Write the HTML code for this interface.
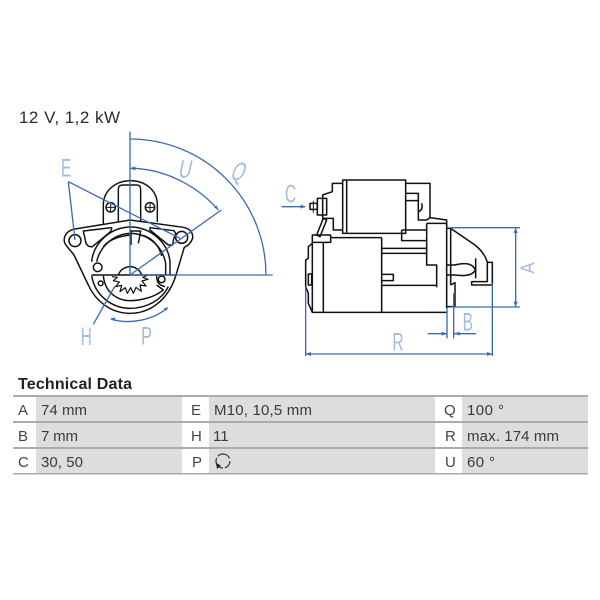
<!DOCTYPE html>
<html><head><meta charset="utf-8"><style>
html,body{margin:0;padding:0;background:#fff}
svg{display:block}
text{font-family:"Liberation Sans",sans-serif;fill:#2b2b2b}
.t{font-size:15px;fill:#3a3a3a}
.k{font-size:15px;fill:#444}
.b{fill:#a2bbde;font-size:75px}
</style></head><body>
<svg width="600" height="600" viewBox="0 0 600 600" xmlns="http://www.w3.org/2000/svg">
<text x="19" y="123" font-size="17" textLength="101" lengthAdjust="spacing">12 V, 1,2 kW</text>

<!-- front view -->
<g transform="translate(50,130) scale(.33333)">
<g fill="none" stroke="#111" stroke-width="4.4" stroke-linejoin="round">
<path d="M160,282V225C160,180 200,152 240,152C285,152 322,180 322,225V276"/>
<path d="M205,278V178Q205,165 218,165H260Q272,165 272,178V275"/>
<circle cx="182" cy="232" r="14"/><circle cx="300" cy="232" r="14"/>
<path d="M170,232H194M182,220V244M288,232H312M300,220V244" stroke-width="3"/>
<path d="M240,270L400,292Q430,298 428,325Q420,345 403,352L378,435C355,510 300,550 240,550C180,550 135,510 115,465L72,375C60,358 45,347 43,335C40,315 55,300 75,297Z"/>
<circle cx="75" cy="332" r="18"/><circle cx="395" cy="322" r="18"/>
<path d="M100,303L185,293Q186,300 178,308L127,350Q115,352 108,340Z"/>
<path d="M300,293L372,302L378,312Q370,322 368,345L355,345L300,300Z"/>
<path d="M125,395C130,340 180,292 240,291C305,291 355,340 360,395V435"/>
<path d="M140,395C150,350 190,312 240,310C295,310 338,350 347,400V435"/>
<path d="M160,350C180,325 215,318 240,315M272,315C300,320 325,340 335,378"/>
<path d="M243,300V345M243,303H272L265,340"/>
<circle cx="143" cy="412" r="13"/>
<path d="M125,435H380"/>
<path d="M125,437C135,500 190,535 240,535C290,535 335,510 355,470"/>
<path d="M160,437C165,490 205,512 240,512C265,512 300,505 325,490L340,480L320,465"/>
<circle cx="335" cy="448" r="10"/><circle cx="152" cy="460" r="7"/>
<path d="M320,437C320,455 325,465 345,470"/>
<path d="M205,435A37,37 0 0 1 275,435"/>
<path d="M186,440L202,442L190,452L208,456L197,470L215,466L210,485L226,473L232,490L242,473L250,490L258,472L274,484L270,465L288,468L276,453L294,448L278,442L292,436" stroke-width="3.6"/>
</g>
<g fill="none" stroke="#3a6cb5" stroke-width="4">
<path d="M240,5V435M240,435H668"/>
<path d="M240,27A408,408 0 0 1 648,435"/>
<path d="M240,115C340,115 440,165 505,240"/>
<path d="M240,435L514,240"/>
<path d="M55,155L75,330M55,155L390,325M130,583L195,468"/>
<path d="M183,567C240,585 310,570 353,533"/>
</g>
<g fill="#3a6cb5">
<path d="M240,115l16,-6v12z"/>
<path d="M505,240l-13,-8l8,-6z"/>
<path d="M180,566l16,-4l-3,11z"/><path d="M355,532l-14,3l7,8z"/>
</g>
<text class="b" transform="translate(33,140) scale(.62,1)">E</text>
<text class="b" transform="translate(382,143) skewX(-12) scale(.72,1)">U</text>
<text class="b" transform="translate(538,150) skewX(-20) scale(.68,1)">Q</text>
<text class="b" transform="translate(92,645) scale(.62,1)">H</text>
<text class="b" transform="translate(273,643) scale(.66,1)">P</text>
</g>

<!-- side view -->
<g transform="translate(275,170) scale(.33333)">
<g fill="none" stroke="#111" stroke-width="4.6" stroke-linejoin="round">
<path d="M203,30H392V190H203Z"/><path d="M215,32V188"/>
<path d="M203,40H172V65L143,75V145H175V180H203"/>
<path d="M392,40H465V145"/>
<path d="M392,70H430V125Q445,120 440,100M392,92H430"/>
<path d="M430,125V150H455L465,143L515,150V170"/>
<path d="M127,85H155V135H127Z"/><path d="M105,100H127V118H105Z"/><path d="M115,92V128" stroke-width="3"/>
<path d="M145,145L125,195L135,200L155,150Z"/>
<path d="M112,195H167V217H112Z"/>
<path d="M167,203H320M380,180H455M380,180V212H455"/>
<path d="M145,217V425"/>
<path d="M112,220L100,230V265L92,270V350L100,370V400L112,427H320V203"/>
<path d="M112,217V427"/>
<path d="M100,312H110V345H100Z"/>
<path d="M320,235H455M320,250H455"/>
<path d="M320,313H355V332H320"/>
<path d="M320,346H487M320,427H515"/>
<path d="M455,160V285H485V352"/>
<path d="M455,160H515V415"/>
<path d="M527,175V345"/><path d="M515,175H527"/>
<path d="M527,175L600,225Q630,250 637,277H652V345H590V335H637V277"/>
<path d="M515,285H540Q590,272 601,300Q590,322 540,315H515"/>
<path d="M602,265V325"/>
<path d="M527,345L540,338V410H515"/>
</g>
<g fill="none" stroke="#3a6cb5" stroke-width="4">
<path d="M20,110H90"/>
<path d="M527,173H735M527,411H735M722,173V411"/>
<path d="M92,350V558M652,340V558M92,552H652"/>
<path d="M516,415V505M536,370V505M458,491H516M603,491H538"/>
</g>
<g fill="#3a6cb5">
<path d="M92,110l-15,-6v12z"/>
<path d="M722,173l-6,16h12zM722,411l-6,-16h12z"/>
<path d="M92,552l16,-6v12zM652,552l-16,-6v12z"/>
<path d="M516,491l-16,-6v12zM538,491l16,-6v12z"/>
</g>
<text class="b" transform="translate(30,98) scale(.62,1)">C</text>
<text class="b" transform="translate(352,542) scale(.62,1)">R</text>
<text class="b" transform="translate(563,482) scale(.62,1)">B</text>
<text class="b" transform="translate(778,311) rotate(-90) scale(.85,1)" style="font-size:60px">A</text>
</g>

<!-- table -->
<text x="18" y="389" font-size="16" font-weight="700" textLength="114" lengthAdjust="spacing" style="fill:#222">Technical Data</text>
<g fill="#dcddde">
<rect x="36" y="396" width="146" height="78"/>
<rect x="209" y="396" width="226" height="78"/>
<rect x="462" y="396" width="126" height="78"/>
</g>
<g fill="#a9abad">
<rect x="13" y="395" width="575" height="2"/>
<rect x="13" y="421" width="575" height="2"/>
<rect x="13" y="447" width="575" height="2"/>
<rect x="13" y="473" width="575" height="1.5"/>
</g>
<g>
<text class="k" x="18" y="415">A</text><text class="k" x="18" y="441">B</text><text class="k" x="18" y="467">C</text>
<text class="t" x="41" y="415" textLength="46">74 mm</text>
<text class="t" x="41" y="441" textLength="37">7 mm</text>
<text class="t" x="41" y="467" textLength="42">30, 50</text>
<text class="k" x="191" y="415">E</text><text class="k" x="191" y="441">H</text><text class="k" x="192" y="467">P</text>
<text class="t" x="214" y="415" textLength="98">M10, 10,5 mm</text>
<text class="t" x="213" y="441">11</text>
<text class="k" x="444" y="415">Q</text><text class="k" x="445" y="441">R</text><text class="k" x="445" y="467">U</text>
<text class="t" x="467" y="415" textLength="37">100 °</text>
<text class="t" x="467" y="441" textLength="92">max. 174 mm</text>
<text class="t" x="467" y="467" textLength="28">60 °</text>
</g>
<circle cx="223" cy="461" r="7" fill="none" stroke="#333" stroke-width="1.2" stroke-dasharray="9 2 14 2 14 3"/>
<path d="M216,463l5,2.5l-4,3.5z" fill="#222"/>
</svg>
</body></html>
